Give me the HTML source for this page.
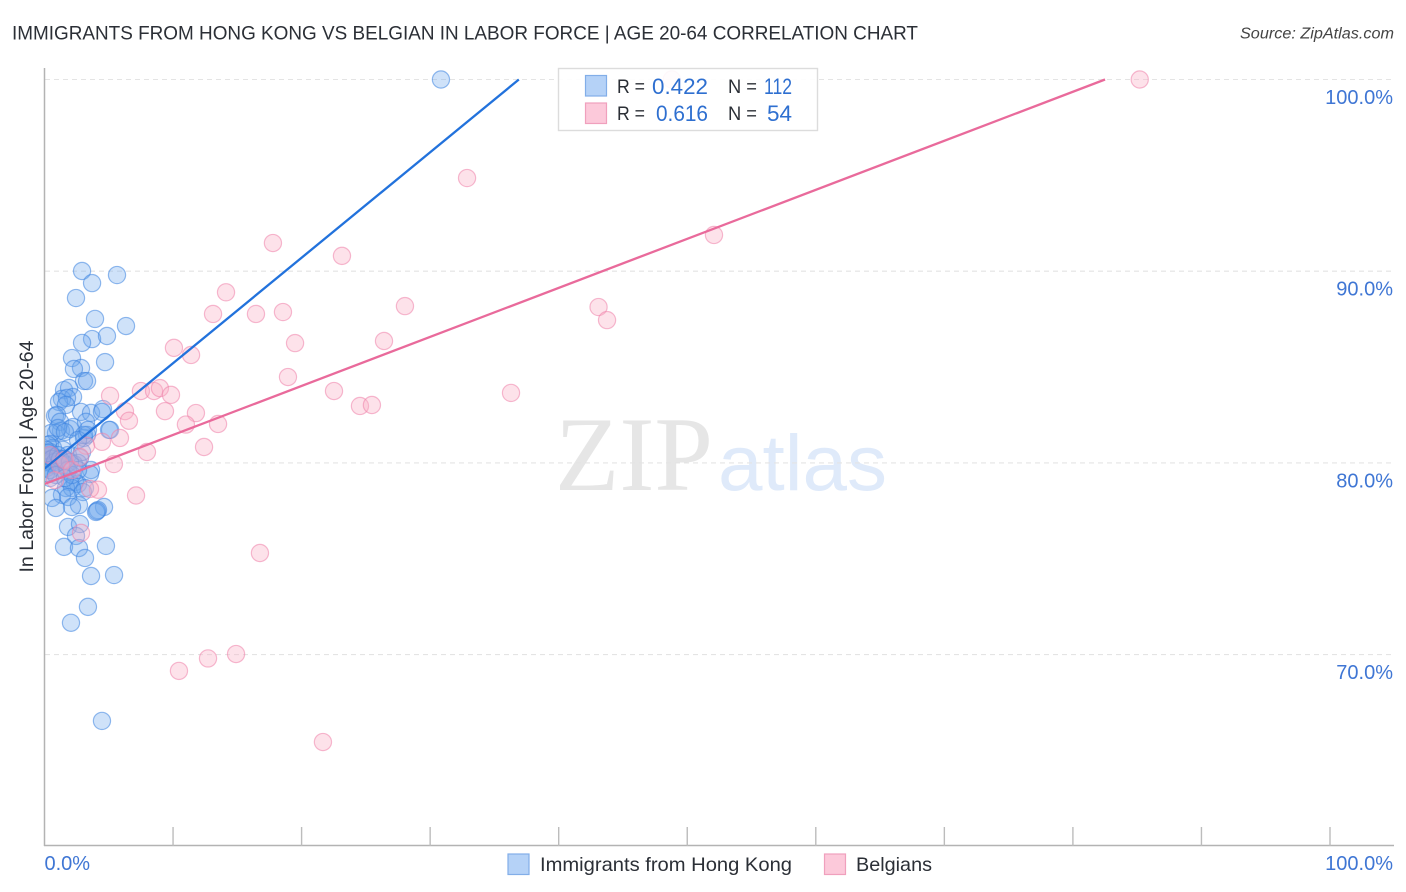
<!DOCTYPE html>
<html>
<head>
<meta charset="utf-8">
<style>
html,body{margin:0;padding:0;background:#fff;width:1406px;height:892px;overflow:hidden}
svg{display:block}
text{font-family:"Liberation Sans",sans-serif}
</style>
</head>
<body>
<svg id="chart" width="1406" height="892" viewBox="0 0 1406 892" xmlns="http://www.w3.org/2000/svg">
  <defs>
    <clipPath id="plotClip"><rect x="45" y="60" width="1350" height="786"/></clipPath>
  </defs>
  <text x="12" y="39.5" font-size="19.5" fill="#2b2f36" textLength="906" lengthAdjust="spacingAndGlyphs">IMMIGRANTS FROM HONG KONG VS BELGIAN IN LABOR FORCE | AGE 20-64 CORRELATION CHART</text>
  <text x="1394" y="38.5" font-size="15.5" font-style="italic" fill="#444" text-anchor="end" textLength="154" lengthAdjust="spacingAndGlyphs">Source: ZipAtlas.com</text>

  <g>
    <text x="555" y="490" font-size="106" fill="#e6e6e6" style="font-family:'Liberation Serif',serif" textLength="158" lengthAdjust="spacingAndGlyphs">ZIP</text>
    <text x="718" y="490" font-size="79" fill="#dfeafa" textLength="169" lengthAdjust="spacingAndGlyphs">atlas</text>
  </g>

  <g id="grid"></g>
  <g id="axes"></g>
  <g clip-path="url(#plotClip)">
    <g id="pointsBlue"></g>
    <g id="pointsPink"></g>
    <g id="trends"></g>
  </g>
  <g id="yLabels"></g>
  <g id="xLabels"></g>

  <text transform="translate(33,456.5) rotate(-90)" font-size="19" fill="#2b2f36" text-anchor="middle" textLength="232" lengthAdjust="spacingAndGlyphs">In Labor Force | Age 20-64</text>

  <g>
    <rect x="558.5" y="68.5" width="259" height="62" fill="#fff" fill-opacity="0.9" stroke="#dcdcdc" stroke-width="1.4"/>
    <rect x="585.5" y="75.5" width="21" height="20.5" fill="#b5d2f7" stroke="#82aee8" stroke-width="1.2"/>
    <rect x="585.5" y="103" width="21" height="20.5" fill="#fcc9da" stroke="#f0a0bd" stroke-width="1.2"/>
    <text x="617" y="93" font-size="19.5" fill="#2b2f36" textLength="28" lengthAdjust="spacingAndGlyphs">R =</text>
    <text x="652" y="94" font-size="22" fill="#2e6fd0" textLength="56" lengthAdjust="spacingAndGlyphs">0.422</text>
    <text x="728" y="93" font-size="19.5" fill="#2b2f36" textLength="29" lengthAdjust="spacingAndGlyphs">N =</text>
    <text x="764" y="94" font-size="22" fill="#2e6fd0" textLength="28" lengthAdjust="spacingAndGlyphs">112</text>
    <text x="617" y="120" font-size="19.5" fill="#2b2f36" textLength="28" lengthAdjust="spacingAndGlyphs">R =</text>
    <text x="656" y="121" font-size="22" fill="#2e6fd0" textLength="52" lengthAdjust="spacingAndGlyphs">0.616</text>
    <text x="728" y="120" font-size="19.5" fill="#2b2f36" textLength="29" lengthAdjust="spacingAndGlyphs">N =</text>
    <text x="767" y="121" font-size="22" fill="#2e6fd0" textLength="25" lengthAdjust="spacingAndGlyphs">54</text>
  </g>

  <g>
    <rect x="508" y="854" width="21" height="20.5" fill="#b5d2f7" stroke="#82aee8" stroke-width="1.2"/>
    <text x="540" y="871" font-size="19.5" fill="#2b2f36" textLength="252" lengthAdjust="spacingAndGlyphs">Immigrants from Hong Kong</text>
    <rect x="824.5" y="854" width="21" height="20.5" fill="#fcc9da" stroke="#f0a0bd" stroke-width="1.2"/>
    <text x="856" y="871" font-size="19.5" fill="#2b2f36" textLength="76" lengthAdjust="spacingAndGlyphs">Belgians</text>
  </g>
</svg>
<script>
var blueX = [30.84,2.92,5.64,3.70,2.45,3.93,6.34,3.70,4.86,2.92,2.14,4.71,2.84,2.29,3.07,3.31,1.52,1.91,1.36,2.22,1.13,1.75,1.67,2.84,3.62,4.55,4.47,0.82,0.97,1.21,1.28,1.98,2.22,3.23,5.02,5.10,3.07,3.31,0.89,0.51,0.43,0.66,0.43,1.44,1.83,2.76,0.43,0.74,0.97,1.36,0.19,0.43,0.74,0.19,1.21,1.67,2.29,2.61,3.62,3.54,0.43,1.98,2.37,2.61,3.15,1.67,2.14,2.99,1.36,1.83,0.58,2.68,2.14,0.89,4.63,4.16,4.01,4.08,1.83,2.76,2.45,1.52,2.68,4.78,3.15,3.62,5.41,3.38,2.06,4.47,0.27,0.12,0.27,0.58,0.82,1.05,0.12,1.21,1.52,1.98,1.83,2.14,0.43,0.89,2.92,1.59,2.61,3.07,1.05,1.59,2.61,3.38];
var blueY = [100,90.01,89.80,89.38,88.60,87.51,87.14,86.46,86.62,86.26,85.47,85.26,84.95,84.90,84.27,84.27,83.80,83.91,83.34,83.44,83.18,83.39,83.02,82.66,82.61,82.81,82.66,82.45,82.50,82.14,81.67,81.77,81.87,82.14,81.72,81.72,81.30,81.46,81.56,81.56,80.99,80.78,80.57,80.68,80.41,80.26,80.36,80.31,80.15,80.05,80.15,80.00,79.89,79.74,79.74,79.89,79.94,80.00,79.63,79.42,79.21,79.00,79.00,78.90,78.69,78.69,78.69,78.48,78.33,78.22,78.17,77.80,77.70,77.65,77.70,77.54,77.44,77.49,76.66,76.81,76.19,75.62,75.56,75.67,75.04,74.10,74.15,72.49,71.66,66.54,80.94,80.68,80.52,80.21,80.05,80.41,79.47,80.21,80.21,80.05,79.63,79.37,79.63,79.37,80.57,79.21,79.63,81.46,81.82,81.61,81.20,81.72];
var pinkX = [48.8,85.2,32.87,52.08,17.77,23.14,14.12,28.04,43.1,43.76,13.11,16.45,18.55,19.49,26.41,10.07,11.4,18.94,22.52,36.29,24.54,25.47,5.1,7.5,8.52,8.98,9.84,6.26,9.37,11.78,6.57,11.0,13.5,5.87,4.47,3.23,12.41,7.97,5.4,7.12,4.16,3.54,16.76,2.84,14.9,12.72,10.46,21.66,1.21,1.59,2.14,0.82,0.43,2.76];
var pinkY = [100,100,94.86,91.89,91.47,90.8,88.9,88.18,88.13,87.45,87.77,87.77,87.87,86.25,86.36,86.0,85.63,84.48,83.75,83.65,82.97,83.02,83.5,83.75,83.75,83.9,83.55,82.7,82.7,82.6,82.2,82.0,82.03,81.3,81.1,80.9,80.83,80.57,79.94,78.3,78.6,78.64,75.3,76.35,70.03,69.8,69.15,65.44,79.89,80.15,79.63,79.1,80.41,80.31];
var blueTrendX = [0, 36.9];
var blueTrendY = [79.7, 100];
var pinkTrendX = [0, 82.5];
var pinkTrendY = [78.9, 100];
var yTicks = [100, 90, 80, 70];
var yTickLabels = ["100.0%", "90.0%", "80.0%", "70.0%"];
var xTicks = [10, 20, 30, 40, 50, 60, 70, 80, 90, 100];
var xEndValues = [0, 100];
var xEndLabels = ["0.0%", "100.0%"];

var NS = "http://www.w3.org/2000/svg";
function sx(v) { return 44.5 + v * 12.855; }
function sy(v) { return 79.5 + (100 - v) * 19.17; }
function make(tag, attrs, parent) {
  var el = document.createElementNS(NS, tag);
  for (var k in attrs) el.setAttribute(k, attrs[k]);
  parent.appendChild(el);
  return el;
}

var grid = document.getElementById("grid");
var axes = document.getElementById("axes");
var yLabels = document.getElementById("yLabels");
var xLabels = document.getElementById("xLabels");

yTicks.forEach(function (v, i) {
  var line = make("line", {x1: 45, x2: 1394, y1: sy(v), y2: sy(v), stroke: "#e4e4e4", "stroke-width": 1.1, "stroke-dasharray": "5 4"}, grid);
  
  
  var label = make("text", {x: 1393, y: sy(v) + 24.5, "font-size": 20, fill: "#3f76d4", "text-anchor": "end"}, yLabels);
  
  
  label.textContent = yTickLabels[i];
});

var yAxis = make("line", {x1: 44.5, x2: 44.5, y1: 68, y2: 846, stroke: "#b3b3b3", "stroke-width": 1.5}, axes);


var xAxis = make("line", {x1: 44, x2: 1394, y1: 845.5, y2: 845.5, stroke: "#b3b3b3", "stroke-width": 1.5}, axes);



xTicks.forEach(function (v) {
  var tick = make("line", {x1: sx(v), x2: sx(v), y1: 827, y2: 846, stroke: "#bcbcbc", "stroke-width": 1.4}, axes);
  
  
});

xEndValues.forEach(function (v, i) {
  var label = make("text", {x: i === 0 ? sx(v) : 1393, y: 870, "font-size": 20, fill: "#3f76d4", "text-anchor": i === 0 ? "start" : "end"}, xLabels);
  
  
  label.textContent = xEndLabels[i];
});

var blueGroup = document.getElementById("pointsBlue");
blueX.forEach(function (v, i) {
  var c = make("circle", {cx: sx(v), cy: sy(blueY[i]), r: 8.6, fill: "#6ea6ec", "fill-opacity": 0.33, stroke: "#3d84e0", "stroke-opacity": 0.55, "stroke-width": 1.2}, blueGroup);
  
  
});

var pinkGroup = document.getElementById("pointsPink");
pinkX.forEach(function (v, i) {
  var c = make("circle", {cx: sx(v), cy: sy(pinkY[i]), r: 8.6, fill: "#f9aec6", "fill-opacity": 0.36, stroke: "#ee82aa", "stroke-opacity": 0.55, "stroke-width": 1.2}, pinkGroup);
  
  
});

var trends = document.getElementById("trends");
var blueLine = make("line", {x1: sx(blueTrendX[0]), y1: sy(blueTrendY[0]), x2: sx(blueTrendX[1]), y2: sy(blueTrendY[1]), stroke: "#2272dc", "stroke-width": 2.3}, trends);


var pinkLine = make("line", {x1: sx(pinkTrendX[0]), y1: sy(pinkTrendY[0]), x2: sx(pinkTrendX[1]), y2: sy(pinkTrendY[1]), stroke: "#e96a9b", "stroke-width": 2.3}, trends);


</script>
</body>
</html>
